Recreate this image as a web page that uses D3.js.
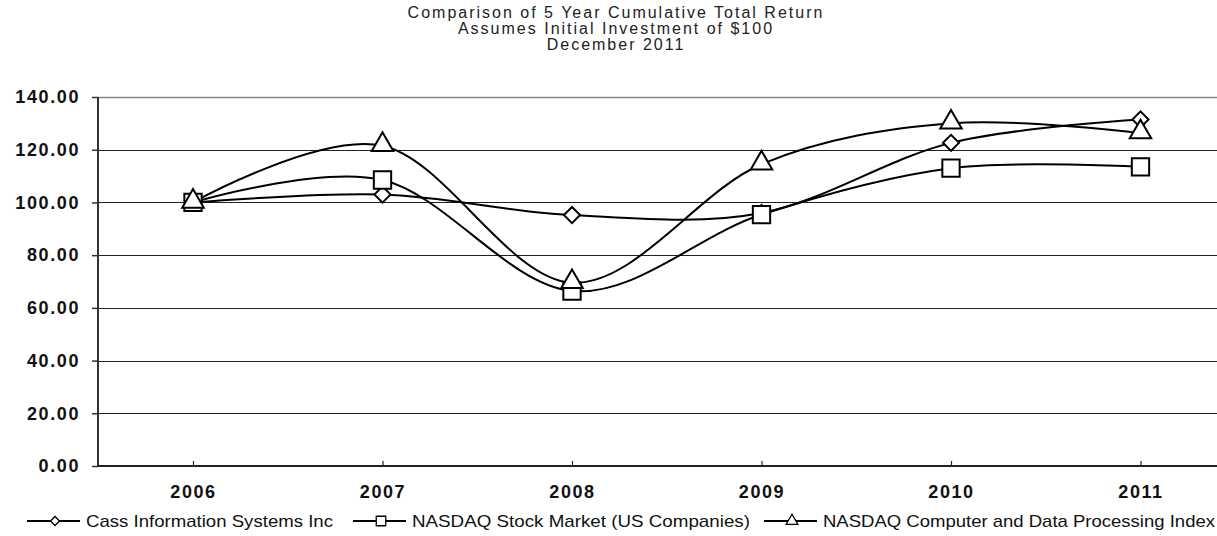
<!DOCTYPE html>
<html>
<head>
<meta charset="utf-8">
<script src="https://cdn.jsdelivr.net/npm/d3@7"></script>
<style>
  body { margin: 0; background: #fff; }
  svg { display: block; font-family: "Liberation Sans", Arial, sans-serif; }
</style>
</head>
<body>
<div id="chart"></div>
<script>
// data
var years = ["2006", "2007", "2008", "2009", "2010", "2011"];
var cass = [100, 103, 95.2, 96, 122.6, 131.5];
var nasdaq = [100, 108.5, 66.4, 95.4, 113, 113.5];
var nasdaqComp = [100, 121.5, 69.5, 114.5, 130, 126.3];
var seriesNames = ["Cass Information Systems Inc", "NASDAQ Stock Market (US Companies)", "NASDAQ Computer and Data Processing Index"];
var yTicks = [0, 20, 40, 60, 80, 100, 120, 140];
var titleLines = ["Comparison of 5 Year Cumulative Total Return", "Assumes Initial Investment of $100", "December 2011"];

var svgWidth = 1217;
var svgHeight = 536;

var svg = d3.select("#chart")
    .append("svg")
    .attr("width", svgWidth)
    .attr("height", svgHeight);

// plot area
var plotLeft = 98, plotTop = 97, plotBottom = 466;

var xScale = d3.scalePoint()
    .domain(years)
    .range([193, 1140.5]);

var yScale = d3.scaleLinear()
    .domain([0, 140])
    .range([plotBottom, plotTop]);

// title
svg.append("g").selectAll("text")
    .data(titleLines)
    .enter()
    .append("text")
    .attr("x", 616)
    .attr("y", (d, i) => 18 + i * 16)
    .attr("text-anchor", "middle")
    .attr("font-size", 16)
    .attr("letter-spacing", 2)
    .attr("fill", "#222")
    .text(d => d);

// gridlines
svg.append("g").selectAll("line")
    .data(yTicks.filter(d => d > 0))
    .enter()
    .append("line")
    .attr("x1", plotLeft)
    .attr("x2", svgWidth)
    .attr("y1", d => Math.round(yScale(d)) + 0.5)
    .attr("y2", d => Math.round(yScale(d)) + 0.5)
    .attr("stroke", d => d == 140 ? "#888" : "#222")
    .attr("stroke-width", d => d == 140 ? 1.5 : 1.2);

// y axis
var leftAxis = d3.axisLeft(yScale)
    .tickValues(yTicks)
    .tickFormat(d3.format(".2f"))
    .tickSize(6)
    .tickPadding(12);

var yAxis = svg.append("g")
    .attr("transform", `translate(${plotLeft}, 0)`)
    .call(leftAxis);
yAxis.select(".domain").attr("stroke", "#333").attr("stroke-width", 2).attr("d", `M0,${plotTop}V${plotBottom}`);
yAxis.selectAll(".tick line").attr("stroke", "#333").attr("stroke-width", 1.5);
yAxis.selectAll("text")
    .attr("font-size", 18)
    .attr("font-family", "Liberation Sans, Arial, sans-serif")
    .attr("font-weight", "bold")
    .attr("letter-spacing", 1.6)
    .attr("fill", "#111");

// x axis
var bottomAxis = d3.axisBottom(xScale)
    .tickSize(-5)
    .tickPadding(19);

var xAxis = svg.append("g")
    .attr("transform", `translate(0, ${plotBottom})`)
    .call(bottomAxis);
xAxis.select(".domain").attr("stroke", "#222").attr("stroke-width", 2).attr("d", `M${plotLeft},0H${svgWidth}`);
xAxis.selectAll(".tick line").attr("stroke", "#222").attr("stroke-width", 1.2);
xAxis.selectAll("text")
    .attr("font-size", 18)
    .attr("font-family", "Liberation Sans, Arial, sans-serif")
    .attr("font-weight", "bold")
    .attr("letter-spacing", 1.6)
    .attr("fill", "#111");

// lines
var allSeries = [cass, nasdaq, nasdaqComp];
var line = d3.line()
    .x((d, i) => xScale(years[i]))
    .y(d => yScale(d))
    .curve(d3.curveCardinal.tension(0));

var symbols = [
    d3.symbol().type(d3.symbolSquare).size(130),  // rotated into a diamond
    d3.symbol().type(d3.symbolSquare).size(300),
    d3.symbol().type(d3.symbolTriangle).size(200)
];

allSeries.forEach(function (vals) {
    svg.append("path")
        .attr("d", line(vals))
        .attr("fill", "none")
        .attr("stroke", "#000")
        .attr("stroke-width", 2);
});

allSeries.forEach(function (vals, s) {
    svg.append("g").selectAll("path")
        .data(vals)
        .enter()
        .append("path")
        .attr("d", symbols[s])
        .attr("transform", (d, i) => `translate(${xScale(years[i])}, ${yScale(d) + (s == 2 ? -1 : 0)})` + (s == 0 ? " rotate(45)" : ""))
        .attr("fill", "#fff")
        .attr("stroke", "#000")
        .attr("stroke-width", 2);
});

// legend
var legendX = [27, 353, 764];
var legendTextW = [247, 338, 392];
var legendSym = [
    d3.symbol().type(d3.symbolSquare).size(40),
    d3.symbol().type(d3.symbolSquare).size(90),
    d3.symbol().type(d3.symbolTriangle).size(60)
];
var legend = svg.append("g");
seriesNames.forEach(function (name, i) {
    var g = legend.append("g").attr("transform", `translate(${legendX[i]}, 521)`);
    g.append("line")
        .attr("x1", 0).attr("x2", 53)
        .attr("y1", 0).attr("y2", 0)
        .attr("stroke", "#000").attr("stroke-width", 2);
    g.append("path")
        .attr("d", legendSym[i])
        .attr("transform", "translate(28,0)" + (i == 0 ? " rotate(45)" : ""))
        .attr("fill", "#fff")
        .attr("stroke", "#000")
        .attr("stroke-width", 1.3);
    g.append("text")
        .attr("x", 59)
        .attr("y", 6)
        .attr("font-size", 17)
        .attr("fill", "#111")
        .attr("textLength", legendTextW[i])
        .attr("lengthAdjust", "spacingAndGlyphs")
        .text(name);
});
</script>
</body>
</html>
